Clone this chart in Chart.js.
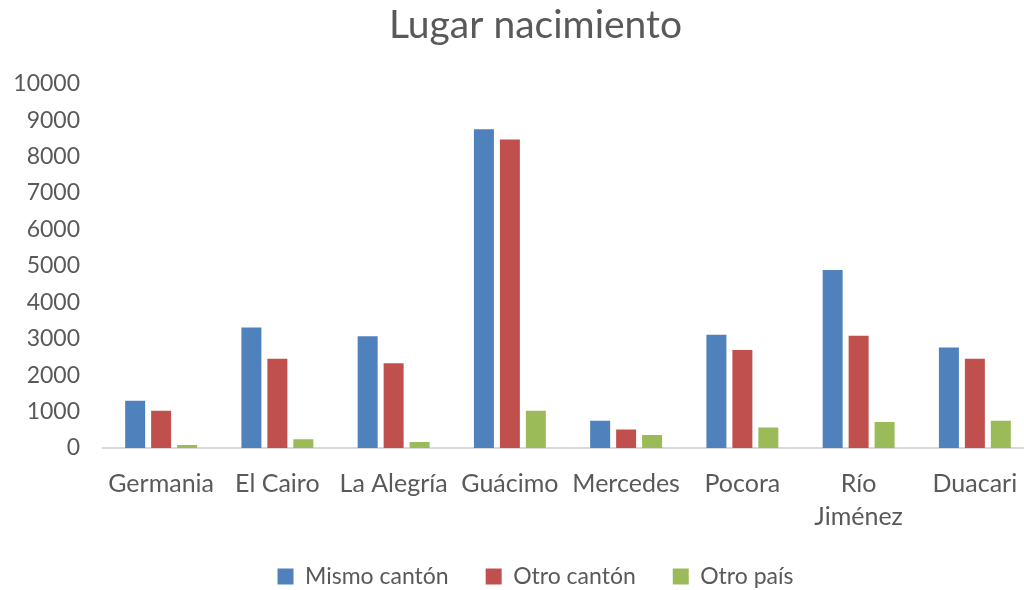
<!DOCTYPE html>
<html>
<head>
<meta charset="utf-8">
<script src="https://cdn.jsdelivr.net/npm/chart.js@4.4.0/dist/chart.umd.min.js"></script>
<style>
html,body{margin:0;padding:0;background:#fff;overflow:hidden;}
#wrap{width:1024px;height:590px;position:relative;overflow:hidden;}
canvas{display:block;}
</style>
</head>
<body>
<div id="wrap"><canvas id="c" width="1035" height="590"></canvas></div>
<script>
const categories = ['Germania','El Cairo','La Alegría','Guácimo','Mercedes','Pocora',['Río','Jiménez'],'Duacari'];
const mismoCanton = [1300, 3310, 3070, 8750, 750, 3110, 4890, 2760];
const otroCanton = [1020, 2450, 2330, 8470, 510, 2690, 3080, 2450];
const otroPais = [85, 240, 165, 1025, 355, 560, 715, 750];
const yTicks = [0,1000,2000,3000,4000,5000,6000,7000,8000,9000,10000];

const FONT = 'Lato';
const GREY = '#595959';

// let axis labels extend beyond their (narrowed) layout boxes
const unclipLabels = {
  id:'unclipLabels',
  afterLayout(chart){
    chart.scales.y.left = 0;
    chart.scales.x.bottom = chart.height;
  }
};

new Chart(document.getElementById('c'), {
  type: 'bar',
  plugins:[unclipLabels],
  data: {
    labels: categories,
    datasets: [
      {label:'Mismo cantón', data: mismoCanton, backgroundColor:'#4f81bd', borderWidth:0},
      {label:'Otro cantón', data: otroCanton, backgroundColor:'#c0504d', borderWidth:0},
      {label:'Otro país', data: otroPais, backgroundColor:'#9bbb59', borderWidth:0}
    ]
  },
  options: {
    responsive:false,
    animation:false,
    devicePixelRatio:1,
    layout:{padding:{left:38,right:2,top:2,bottom:-8}},
    datasets:{bar:{categoryPercentage:0.67,barPercentage:0.77}},
    plugins:{
      title:{display:true,text:'Lugar nacimiento',color:GREY,font:{family:FONT,size:39,weight:'normal'},padding:{top:0,bottom:35}},
      legend:{position:'bottom',labels:{color:GREY,font:{family:FONT,size:23},boxWidth:16,boxHeight:16,padding:37}},
      tooltip:{enabled:false}
    },
    scales:{
      x:{
        grid:{display:false},
        border:{color:'#d9d9d9',width:2},
        ticks:{color:GREY,font:{family:FONT,size:25,lineHeight:1.3},padding:12,maxRotation:0,autoSkip:false},
        afterFit:(s)=>{s.height=80;}
      },
      y:{
        min:0,max:10000,
        afterBuildTicks:(s)=>{s.ticks = yTicks.map(v=>({value:v}));},
        grid:{display:false},
        border:{display:false},
        ticks:{color:GREY,font:{family:FONT,size:23},padding:15,callback:(v)=>String(v)},
        afterFit:(s)=>{s.width=65;}
      }
    }
  }
});
</script>
</body>
</html>
